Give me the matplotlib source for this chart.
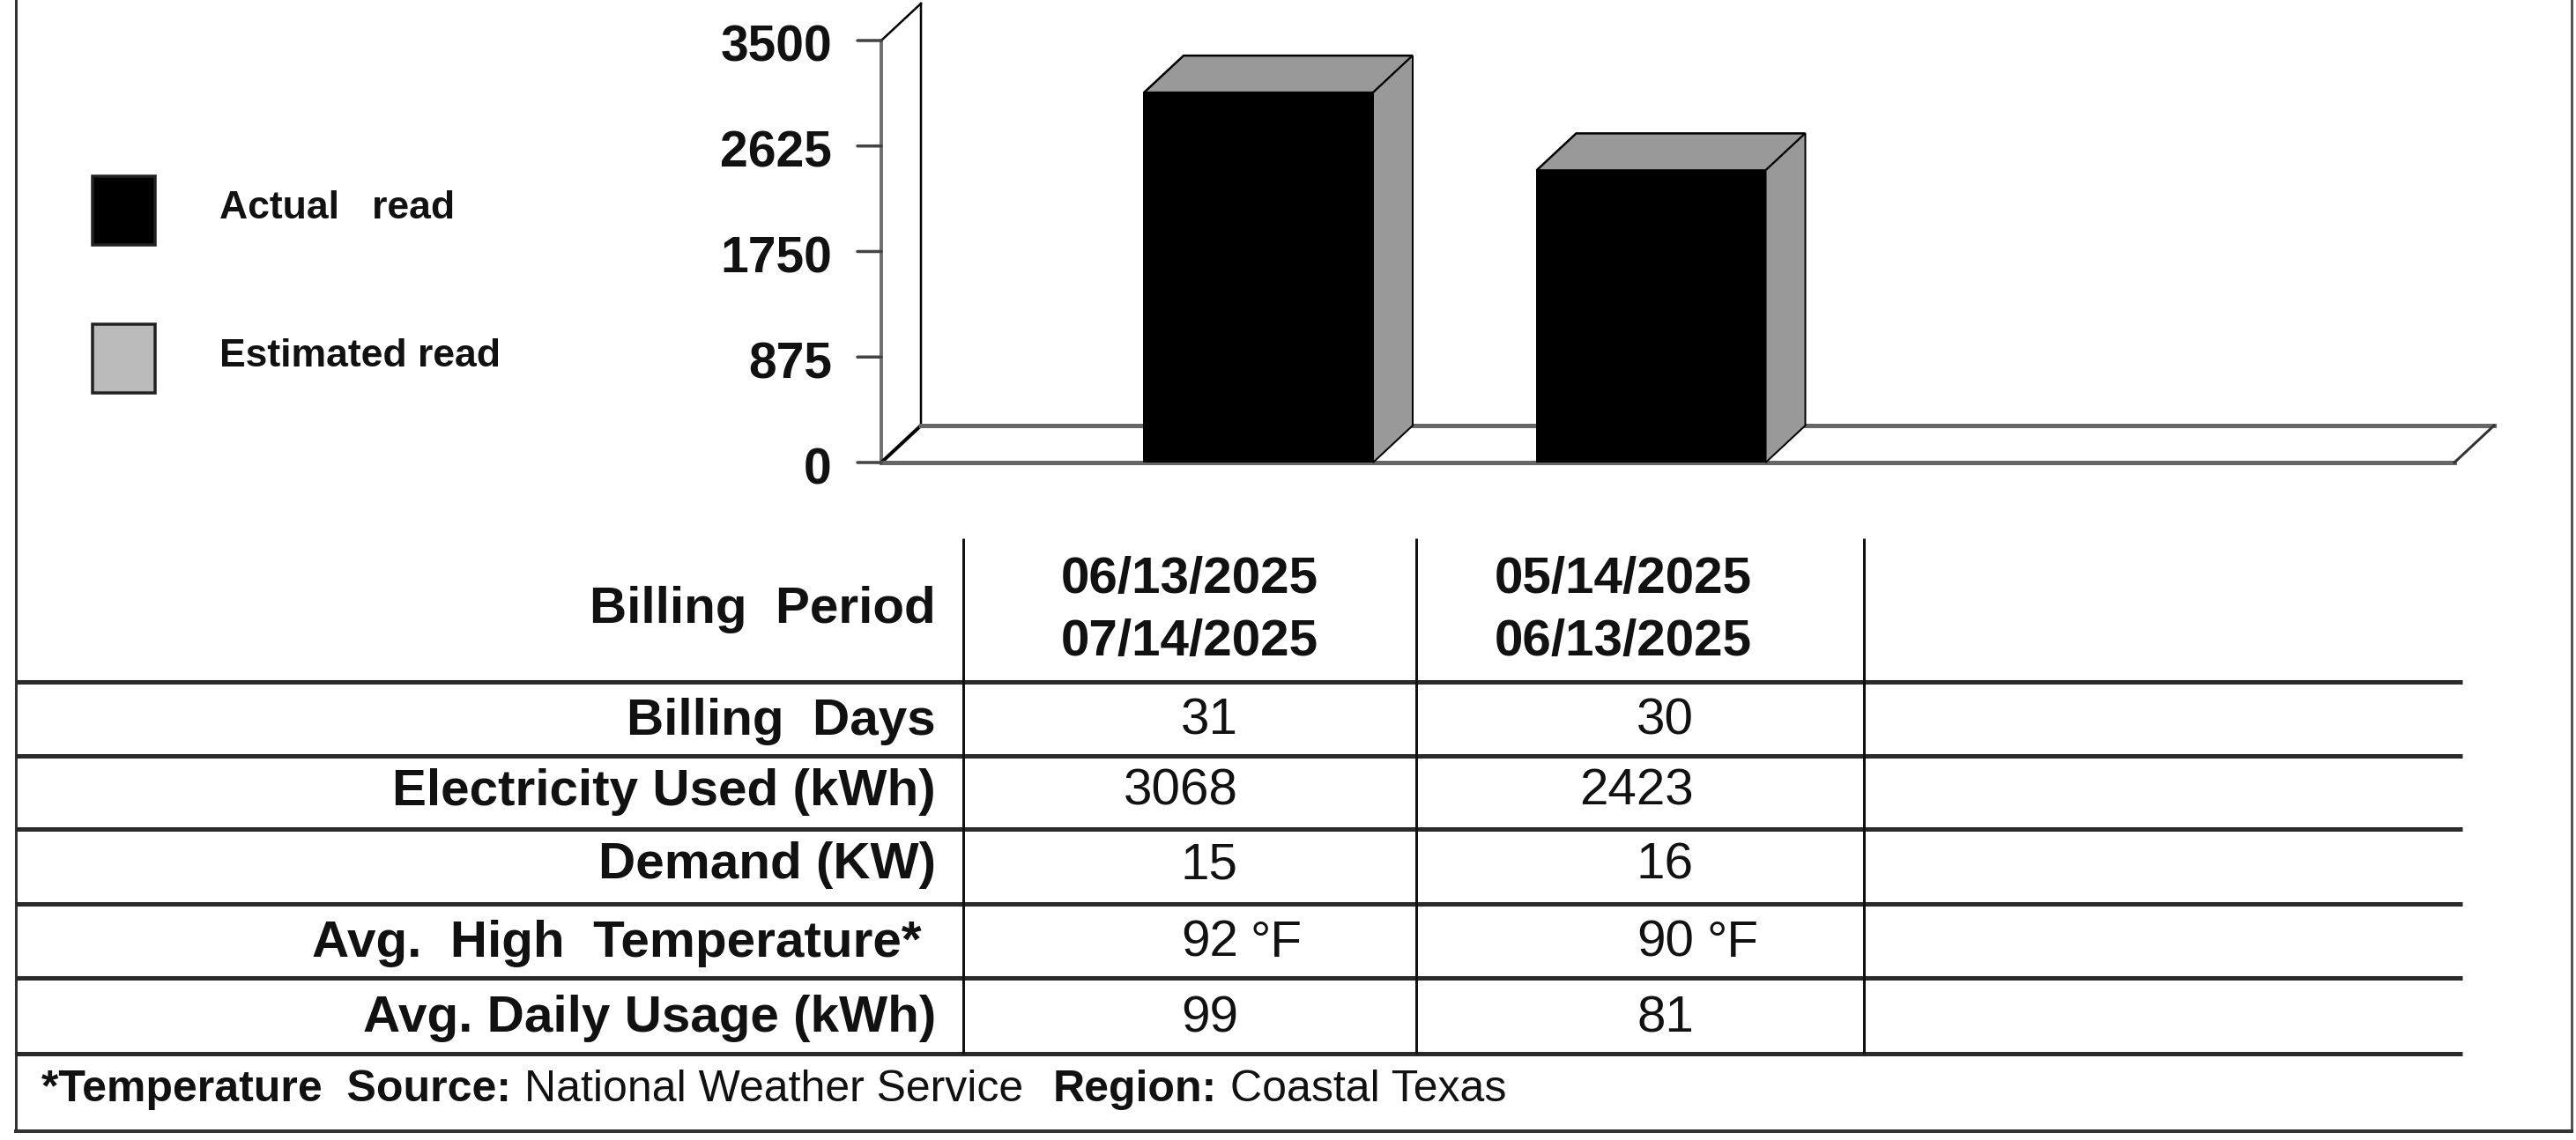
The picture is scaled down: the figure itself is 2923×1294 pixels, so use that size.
import matplotlib
matplotlib.use('Agg')
import matplotlib.pyplot as plt
from matplotlib.patches import Polygon, Rectangle
import numpy as np

# ---------------- data ----------------
period_start = ["06/13/2025", "05/14/2025"]
period_end = ["07/14/2025", "06/13/2025"]
usage_kwh = [3068, 2423]
billing_days = [31, 30]
demand_kw = [15, 16]
avg_high_f = [92, 90]
avg_daily_kwh = [99, 81]
y_ticks = [0, 875, 1750, 2625, 3500]
legend_labels = ["Actual   read", "Estimated read"]
legend_colors = ["#000000", "#bbbbbb"]
row_labels = ["Billing  Period", "Billing  Days", "Electricity Used (kWh)",
              "Demand (KW)", "Avg.  High  Temperature* ", "Avg. Daily Usage (kWh)"]
footer_parts = [("*Temperature  Source:", "bold"), ("National Weather Service", "normal"),
                ("Region:", "bold"), ("Coastal Texas", "normal")]

# ---------------- layout ----------------
W, H, DPI = 2923, 1294, 100
plt.rcParams['font.family'] = ['Liberation Sans', 'DejaVu Sans']
TXT = '#111111'
fig = plt.figure(figsize=(W / DPI, H / DPI), dpi=DPI)
PT = 72.0 / DPI  # points per pixel

# overlay axes in pixel coordinates (for frame, legend, table)
ov = fig.add_axes([0, 0, 1, 1])
ov.set_xlim(0, W)
ov.set_ylim(H, 0)
ov.axis('off')

# chart axes (front plane of the 3D chart)
L, R, T, B = 1000, 2785, 46, 525
ax = fig.add_axes([L / W, 1 - B / H, (R - L) / W, (B - T) / H])
ax.set_ylim(0, y_ticks[-1])
slot = 445.5
xa = -(1428 - L) / slot
xb = xa + (R - L) / slot
ax.set_xlim(xa, xb)
ax.axis('off')
ax.set_zorder(2)

# depth offset in data units
o = ax.transData.transform((0, 0))
d = ax.transData.inverted().transform(o + np.array([45.0, 42.0]))
ddx, ddy = d[0], d[1]
ymax = y_ticks[-1]

# wall
ax.add_patch(Polygon([(xa, 0), (xa, ymax), (xa + ddx, ymax + ddy), (xa + ddx, ddy)],
                     closed=True, fc='white', ec='none', clip_on=False, zorder=1))
ax.plot([xa, xa], [0, ymax], color='#707070', lw=4 * PT, clip_on=False, zorder=2)
ax.plot([xa + ddx, xa + ddx], [ddy, ymax + ddy], color='black', lw=2.5 * PT, clip_on=False, zorder=2)
ax.plot([xa, xa + ddx], [ymax, ymax + ddy], color='black', lw=2.5 * PT, clip_on=False, zorder=2)
ax.plot([xa, xa + ddx], [0, ddy], color='black', lw=4 * PT, clip_on=False, zorder=2)

# floor
ax.add_patch(Polygon([(xa, 0), (xb, 0), (xb + ddx, ddy), (xa + ddx, ddy)],
                     closed=True, fc='white', ec='none', clip_on=False, zorder=1))
ax.plot([xa, xb], [0, 0], color='#666666', lw=5 * PT, clip_on=False, zorder=2)
ax.plot([xa + ddx, xb + ddx], [ddy, ddy], color='#666666', lw=5 * PT, clip_on=False, zorder=2)
ax.plot([xb, xb + ddx], [0, ddy], color='#333333', lw=3 * PT, clip_on=False, zorder=2)

# ticks and labels
tick_len = 27
for t in y_ticks:
    ax.annotate('', xy=(0, t), xycoords=('axes fraction', 'data'),
                xytext=(-tick_len * PT, 0), textcoords='offset points',
                arrowprops=dict(arrowstyle='-', color='#444444', lw=3.5 * PT,
                                shrinkA=0, shrinkB=0), annotation_clip=False)
    ax.annotate(str(t), xy=(0, t), xycoords=('axes fraction', 'data'),
                xytext=(-56 * PT, -9 * PT), textcoords='offset points',
                ha='right', va='center', fontsize=41, fontweight='bold', color=TXT,
                annotation_clip=False)

# bars
x = np.arange(len(usage_kwh))
bw = 260 / slot
ax.bar(x, usage_kwh, width=bw, color=legend_colors[0], edgecolor='black', lw=2 * PT, zorder=5)
for xi, v in zip(x, usage_kwh):
    xl, xr = xi - bw / 2, xi + bw / 2
    ax.add_patch(Polygon([(xl, v), (xr, v), (xr + ddx, v + ddy), (xl + ddx, v + ddy)],
                         closed=True, fc='#999999', ec='black', lw=2.5 * PT, zorder=6, clip_on=False))
    ax.add_patch(Polygon([(xr, 0), (xr, v), (xr + ddx, v + ddy), (xr + ddx, ddy)],
                         closed=True, fc='#999999', ec='black', lw=2 * PT, zorder=6, clip_on=False))

# ---------------- frame ----------------
FL, FR, FB = 18, 2918, 1284
ov.plot([FL, FL], [0, FB], color='#333333', lw=3 * PT)
ov.plot([FR, FR], [0, FB], color='#555555', lw=3 * PT)
ov.plot([FL, FR], [FB, FB], color='#333333', lw=4 * PT)

# ---------------- legend ----------------
leg_y = [200, 368]
for lab, col, y0 in zip(legend_labels, legend_colors, leg_y):
    ov.add_patch(Rectangle((105, y0), 71, 78, fc=col, ec='#222222', lw=3.5 * PT))
    ov.text(249, y0 + 37, lab, ha='left', va='center', fontsize=32,
            fontweight='bold', color=TXT)

# ---------------- table ----------------
hlines_y = [774, 858, 941, 1026, 1110, 1196]
vlines_x = [1093, 1607, 2115]
for yy in hlines_y:
    ov.plot([FL, 2794], [yy, yy], color='#2a2a2a', lw=5 * PT, solid_capstyle='butt')
for xx in vlines_x:
    ov.plot([xx, xx], [611, hlines_y[-1]], color='#111111', lw=3 * PT, solid_capstyle='butt')

row_y = [692, 819, 899, 982, 1071, 1156]
for lab, yy in zip(row_labels, row_y):
    ov.text(1062, yy, lab, ha='right', va='center', fontsize=42, fontweight='bold', color=TXT)

date_cx = [1350, 1842]
for cx, s, e in zip(date_cx, period_start, period_end):
    ov.text(cx, 658, s, ha='center', va='center', fontsize=42, fontweight='bold', color=TXT)
    ov.text(cx, 729, e, ha='center', va='center', fontsize=42, fontweight='bold', color=TXT)

num_right = [1405, 1922]
rows_vals = [billing_days, usage_kwh, demand_kw, avg_high_f, avg_daily_kwh]
for ri, vals in enumerate(rows_vals):
    yy = row_y[ri + 1]
    for ci, v in enumerate(vals):
        ov.text(num_right[ci], yy, str(v), ha='right', va='center', fontsize=42, color=TXT)
        if vals is avg_high_f:
            ov.text(num_right[ci] + 14, yy, '\u00b0F', ha='left', va='center', fontsize=42, color=TXT)

# footer (chained pieces)
gaps = [15, 34, 15]
prev = ov.text(47, 1237, footer_parts[0][0], ha='left', va='center', fontsize=36,
               fontweight=footer_parts[0][1], color=TXT)
for (s, wgt), g in zip(footer_parts[1:], gaps):
    prev = ov.annotate(s, xy=(1, 0.5), xycoords=prev, xytext=(g * PT, 0),
                       textcoords='offset points', ha='left', va='center',
                       fontsize=36, fontweight=wgt, color=TXT)

fig.savefig('out.png', dpi=DPI, facecolor='white')
